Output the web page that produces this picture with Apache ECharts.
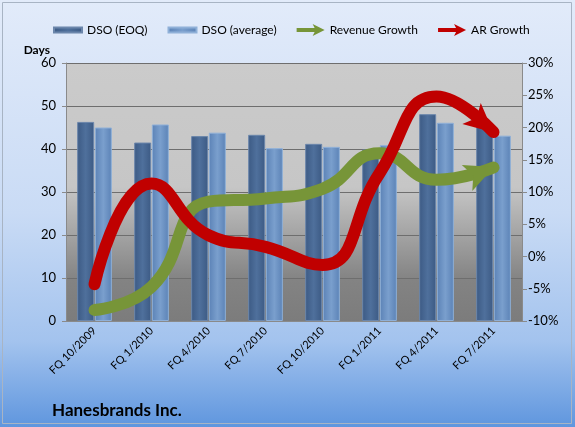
<!DOCTYPE html>
<html>
<head>
<meta charset="utf-8">
<title>Hanesbrands DSO</title>
<style>
  html, body { margin: 0; padding: 0; }
  #chart { width: 575px; height: 427px; }
</style>
</head>
<body>
<div id="chart"></div>
<script src="https://cdn.jsdelivr.net/npm/echarts@6/dist/echarts.min.js"></script>
<script>
var quarters = ['FQ 10/2009', 'FQ 1/2010', 'FQ 4/2010', 'FQ 7/2010', 'FQ 10/2010', 'FQ 1/2011', 'FQ 4/2011', 'FQ 7/2011'];
var dsoEoq = [46.3, 41.5, 43.0, 43.3, 41.2, 39.9, 48.1, 45.4];
var dsoAvg = [45.0, 45.7, 43.8, 40.2, 40.5, 40.9, 46.1, 43.1];
var revenueGrowth = [-8.3, -4.7, 8.5, 9.0, 10.5, 16.0, 11.9, 13.8];
var arGrowth = [-4.3, 11.3, 3.3, 1.5, -1.3, 12.9, 24.8, 19.3];

var font = 'Lato';
var chart = echarts.init(document.getElementById('chart'));

// stealth arrow head, pointing up before rotation
var headPath = 'path://M10,0 L20,26 L10,20 L0,26 Z';

// arrow head on the last point of a line
function arrowHead(values, color, rotate, offset) {
    var last = values.length - 1;
    return {
        silent: true,
        symbol: headPath,
        symbolSize: [28, 29],
        symbolRotate: rotate,
        symbolOffset: offset,
        label: { show: false },
        itemStyle: { color: color },
        data: [{ coord: [quarters[last], values[last]] }]
    };
}

function barGradient(c1, c2) {
    return new echarts.graphic.LinearGradient(0, 0, 1, 0, [
        { offset: 0, color: c1 },
        { offset: 0.5, color: c2 },
        { offset: 1, color: c1 }
    ]);
}

// tiny dots at top and bottom keep the icon box 12 high
var barIcon = 'path://M0,0 L0.01,0 Z M0,3.5 L28,3.5 L28,8.5 L0,8.5 Z M0,12 L0.01,12 Z';
var arrowIcon = 'path://M0,4 L18,4 L16,0 L28,6 L16,12 L18,8 L0,8 Z';

var option = {
    animation: false,
    backgroundColor: new echarts.graphic.LinearGradient(0, 0, 0, 1, [
        { offset: 0, color: '#e2ebfa' },
        { offset: 0.5, color: '#c9dbf5' },
        { offset: 0.8, color: '#a3c3ee' },
        { offset: 1, color: '#5f96de' }
    ]),
    textStyle: { fontFamily: font },
    graphic: [{
        type: 'rect',
        shape: { x: 2.5, y: 2.5, width: 569, height: 421 },
        style: { fill: 'none', stroke: '#a8b4c4', lineWidth: 1 },
        silent: true
    }],
    title: {
        text: 'Hanesbrands Inc.',
        left: 47,
        top: 397,
        textStyle: { fontFamily: font, fontSize: 17, fontWeight: 'bold', color: '#000' }
    },
    legend: {
        top: 18,
        left: 48,
        itemWidth: 28,
        itemHeight: 12,
        itemGap: 20,
        textStyle: { fontFamily: font, fontSize: 12, color: '#000' },
        data: [
            { name: 'DSO (EOQ)', icon: barIcon },
            { name: 'DSO (average)', icon: barIcon },
            { name: 'Revenue Growth', icon: arrowIcon },
            { name: 'AR Growth', icon: arrowIcon }
        ]
    },
    grid: {
        left: 66,
        right: 53,
        top: 63,
        bottom: 106,
        show: true,
        borderWidth: 0,
        backgroundColor: new echarts.graphic.LinearGradient(0, 0, 0, 1, [
            { offset: 0, color: '#cbcbcb' },
            { offset: 0.48, color: '#c6c6c6' },
            { offset: 0.84, color: '#838383' },
            { offset: 1, color: '#7c7c7c' }
        ])
    },
    xAxis: {
        type: 'category',
        data: quarters,
        axisLine: { lineStyle: { color: '#8a8a8a' } },
        axisTick: { length: 5, lineStyle: { color: '#8a8a8a' } },
        axisLabel: { rotate: 45, fontFamily: font, fontSize: 11, color: '#000', margin: 8 }
    },
    yAxis: [{
        type: 'value',
        min: 0,
        max: 60,
        interval: 10,
        name: 'Days',
        nameLocation: 'end',
        nameGap: 7,
        nameTextStyle: { fontFamily: font, fontSize: 12, fontWeight: 'bold', color: '#000', align: 'right', padding: [0, 16, 0, 0] },
        axisLine: { show: true, lineStyle: { color: '#8a8a8a' } },
        axisTick: { show: true, length: 4, lineStyle: { color: '#8a8a8a' } },
        axisLabel: { fontFamily: font, fontSize: 13, color: '#000', margin: 10 },
        splitLine: { lineStyle: { color: '#6e6e6e', width: 1 } }
    }, {
        type: 'value',
        min: -10,
        max: 30,
        interval: 5,
        position: 'right',
        axisLine: { show: true, lineStyle: { color: '#8a8a8a' } },
        axisTick: { show: true, length: 5, lineStyle: { color: '#8a8a8a' } },
        axisLabel: { formatter: '{value}%', fontFamily: font, fontSize: 13, color: '#000', margin: 6 },
        splitLine: { show: false }
    }],
    series: [{
        name: 'DSO (EOQ)',
        type: 'bar',
        data: dsoEoq,
        barWidth: 17,
        barGap: '4%',
        color: '#4a6a96',
        itemStyle: {
            color: barGradient('#3c5a84', '#4f709c'),
            borderColor: '#6b86ab',
            borderWidth: 1
        }
    }, {
        name: 'DSO (average)',
        type: 'bar',
        data: dsoAvg,
        barWidth: 17,
        color: '#7aa0cf',
        itemStyle: {
            color: barGradient('#5b82b6', '#7a9fcd'),
            borderColor: '#8fb0d8',
            borderWidth: 1
        }
    }, {
        name: 'Revenue Growth',
        type: 'line',
        yAxisIndex: 1,
        smooth: 0.5,
        color: '#779538',
        showSymbol: false,
        lineStyle: { width: 12, color: '#779538', cap: 'round' },
        data: revenueGrowth,
        markPoint: arrowHead(revenueGrowth, '#779538', -68, [-13, 5])
    }, {
        name: 'AR Growth',
        type: 'line',
        yAxisIndex: 1,
        smooth: 0.5,
        color: '#c00000',
        showSymbol: false,
        lineStyle: { width: 12, color: '#c00000', cap: 'round' },
        data: arGrowth,
        markPoint: arrowHead(arGrowth, '#c00000', -131, [-11, -9])
    }]
};

chart.setOption(option);
</script>
</body>
</html>
